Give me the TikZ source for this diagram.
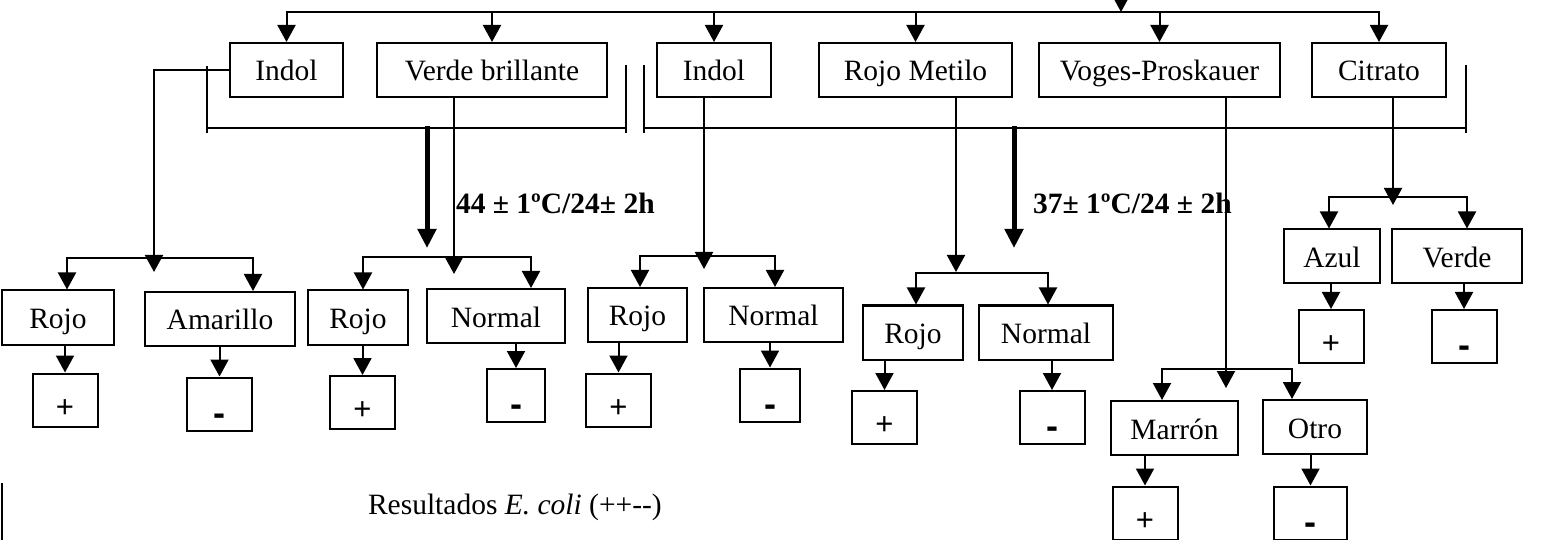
\documentclass[tikz,border=0pt]{standalone}
\usepackage{fontspec}
\setmainfont{Liberation Serif}
\newfontfamily\signfont{Liberation Sans}
\usetikzlibrary{arrows.meta}
\newcommand{\txtsize}{\fontsize{29.5}{34}\selectfont}
\newcommand{\negsign}{\raisebox{-4pt}{\bfseries\fontsize{36}{36}\selectfont -}}

\begin{document}
\begin{tikzpicture}[
    x=1pt, y=-1pt,
    font=\txtsize,
    line width=2pt,
    box/.style={rectangle, draw, inner sep=0pt, minimum height=54pt, text height=24pt, text depth=2pt},
    res/.style={rectangle, draw, inner sep=0pt, minimum width=65pt, minimum height=53pt, text height=34pt, text depth=0pt, font=\signfont\fontsize{31}{34}\selectfont},
    arrow/.style={-{Triangle[length=17pt,width=18pt]}},
    twoway/.style={{Triangle[length=17pt,width=18pt]}-{Triangle[length=17pt,width=18pt]}},
    heavy/.style={line width=5pt, -{Triangle[length=19pt,width=18pt]}}
]
\useasboundingbox (0,0) rectangle (1543,540);

\node[box, minimum width=113pt] (ind1) at (286.5,70) {Indol};
\node[box, minimum width=230pt] (vb) at (492,70) {Verde brillante};
\node[box, minimum width=114pt] (ind2) at (714,70) {Indol};
\node[box, minimum width=193pt] (rm) at (915.5,70) {Rojo Metilo};
\node[box, minimum width=241pt] (vp) at (1159.5,70) {Voges-Proskauer};
\node[box, minimum width=134pt] (cit) at (1379,70) {Citrato};

\node[box, minimum width=112pt] (r1) at (58,317.5) {Rojo};
\node[box, minimum width=150pt] (am) at (220,319) {Amarillo};
\node[box, minimum width=100pt] (r2) at (358,317.5) {Rojo};
\node[box, minimum width=138pt] (n2) at (496,316) {Normal};
\node[box, minimum width=99pt] (r3) at (637.5,315) {Rojo};
\node[box, minimum width=139pt] (n3) at (773.5,315) {Normal};
\node[box, minimum width=100pt] (r4) at (913,332.5) {Rojo};
\node[box, minimum width=134pt] (n4) at (1046,332.5) {Normal};
\node[box, minimum width=96pt] (az) at (1332,256.5) {Azul};
\node[box, minimum width=130pt] (ve) at (1457,256.5) {Verde};
\node[box, minimum width=127pt] (ma) at (1174.5,428) {Marrón};
\node[box, minimum width=104pt] (ot) at (1315,427) {Otro};

\node[res] (p1) at (65,400) {+};
\node[res] (m1) at (219.5,404) {\negsign};
\node[res] (p2) at (362.5,402.5) {+};
\node[res, minimum width=58pt] (m2) at (516,395.5) {\negsign};
\node[res] (p3) at (618.5,400) {+};
\node[res, minimum width=60pt] (m3) at (770,395) {\negsign};
\node[res] (p4) at (884.5,417.5) {+};
\node[res] (m4) at (1052,417.5) {\negsign};
\node[res] (p5) at (1331,336.5) {+};
\node[res] (m5) at (1464,336.5) {\negsign};
\node[res] (p6) at (1145,513) {+};
\node[res, minimum width=73pt] (m6) at (1310.5,513) {\negsign};

\node[anchor=west, inner sep=0pt, font=\bfseries\txtsize] (t44) at (455,203) {44 ± 1ºC/24± 2h};
\node[anchor=west, inner sep=0pt, font=\bfseries\txtsize] (t37) at (1032,203) {37± 1ºC/24 ± 2h};
\node[anchor=west, inner sep=0pt] (note) at (367,507) {Resultados \textit{E. coli} (++-{}-)};

\coordinate (bar) at (0,12);
\coordinate (src) at (1121,0);
\coordinate (t1) at (154,272);
\coordinate (t2) at (454,274);
\coordinate (t3) at (704,269);
\coordinate (t4) at (956,272);
\coordinate (t5) at (1226,388);
\coordinate (t6) at (1393,205);
\coordinate (bl1) at (67,258);   \coordinate (br1) at (253,258);
\coordinate (bl2) at (363,257);  \coordinate (br2) at (531,257);
\coordinate (bl3) at (640,256);  \coordinate (br3) at (775,256);
\coordinate (bl4) at (916,273);  \coordinate (br4) at (1048,273);
\coordinate (bl5) at (1162,369); \coordinate (br5) at (1292,369);
\coordinate (bl6) at (1329,197); \coordinate (br6) at (1467,197);
\coordinate (h1) at (427,126);   \coordinate (h1e) at (427,248);
\coordinate (h2) at (1014,126);  \coordinate (h2e) at (1014,248);

\draw[twoway] (ind1.north) -- (ind1.north |- bar) -- (cit.north |- bar) -- (cit.north);
\foreach \n in {vb,ind2,rm,vp}
    \draw[arrow] (\n.north |- bar) -- (\n.north);
\draw[arrow] (src) -- (src |- bar);

\draw (207,66) -- (207,133) (207,128) -- (626,128) (626,65) -- (626,133);
\draw (644,65) -- (644,133) (644,128) -- (1466,128) (1466,65) -- (1466,133);
\draw[heavy] (h1) -- (h1e);
\draw[heavy] (h2) -- (h2e);

\draw[arrow] (ind1.west) -| (t1);
\foreach \n/\t in {vb/t2, ind2/t3, rm/t4, vp/t5, cit/t6}
    \draw[arrow] (\n.south -| \t) -- (\t);

\foreach \g/\a/\b in {1/r1/am, 2/r2/n2, 3/r3/n3, 4/r4/n4, 5/ma/ot, 6/az/ve}
    \draw[twoway] (bl\g |- \a.north) -- (bl\g) -- (br\g) -- (br\g |- \b.north);

\foreach \a/\b in {r1/p1, am/m1, r2/p2, n2/m2, r3/p3, n3/m3, r4/p4, n4/m4, az/p5, ve/m5, ma/p6, ot/m6}
    \draw[arrow] (\a.south -| \b.north) -- (\b.north);

\draw (1.5,483) -- (1.5,540);

\end{tikzpicture}
\end{document}
